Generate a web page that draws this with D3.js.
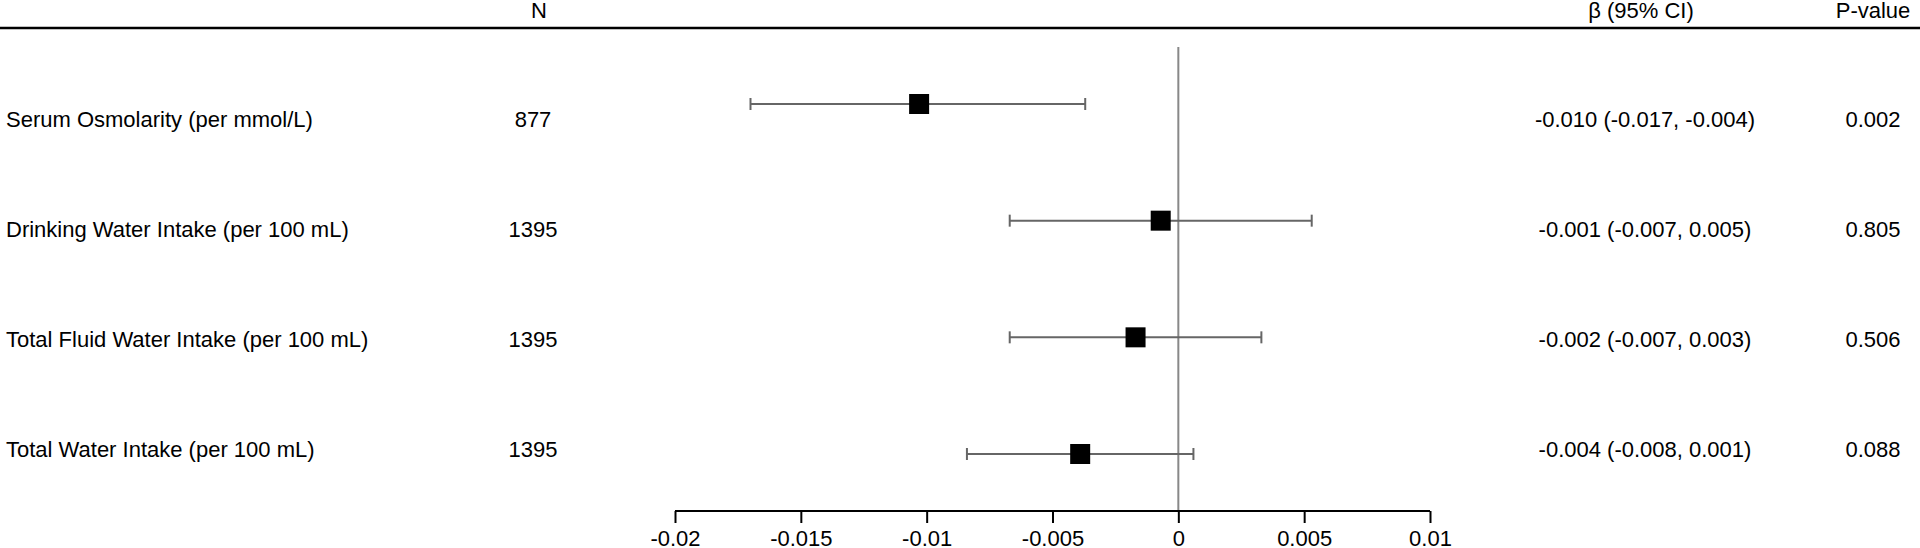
<!DOCTYPE html><html><head><meta charset="utf-8"><script src="https://cdn.jsdelivr.net/npm/d3@7"></script>
<style>body{margin:0;background:#fff}text{font-family:"Liberation Sans",Arial,sans-serif;fill:#000}</style></head><body>
<svg id="c" width="1920" height="548"></svg>
<script>
const labels=["Serum Osmolarity (per mmol/L)","Drinking Water Intake (per 100 mL)","Total Fluid Water Intake (per 100 mL)","Total Water Intake (per 100 mL)"];
const ns=["877","1395","1395","1395"];
const est=[-0.0103,-0.0007,-0.0017,-0.0039];
const lo=[-0.0170,-0.0067,-0.0067,-0.0084];
const hi=[-0.0037,0.0053,0.0033,0.0006];
const ciText=["-0.010 (-0.017, -0.004)","-0.001 (-0.007, 0.005)","-0.002 (-0.007, 0.003)","-0.004 (-0.008, 0.001)"];
const pText=["0.002","0.805","0.506","0.088"];
const ticks=[-0.02,-0.015,-0.01,-0.005,0,0.005,0.01];
const svg=d3.select("#c");
const x=d3.scaleLinear().domain([-0.02,0.01]).range([675,1430]);
const y=d3.scalePoint().domain(d3.range(4)).range([104,454]);
const yl=d3.scalePoint().domain(d3.range(4)).range([119,449]);
const fs=22;
svg.append("text").attr("x",539).attr("y",18).attr("text-anchor","middle").attr("font-size",fs).text("N");
svg.append("text").attr("x",1641).attr("y",18).attr("text-anchor","middle").attr("font-size",fs).text("β (95% CI)");
svg.append("text").attr("x",1873).attr("y",18).attr("text-anchor","middle").attr("font-size",fs).text("P-value");
svg.append("line").attr("x1",0).attr("x2",1920).attr("y1",28).attr("y2",28).attr("stroke","#000").attr("stroke-width",2.5);
svg.append("line").attr("x1",x(0)).attr("x2",x(0)).attr("y1",47).attr("y2",511).attr("stroke","#888").attr("stroke-width",2);
const ax=svg.append("g").attr("transform","translate(0,511)").call(d3.axisBottom(x).tickValues(ticks).tickSize(12).tickFormat(d=>d===0?"0":String(d)));
ax.select(".domain").attr("stroke","#000").attr("stroke-width",2).attr("d","M675,0H1430");
ax.selectAll(".tick line").attr("stroke","#000").attr("stroke-width",2).attr("y1",0).attr("y2",12);
ax.selectAll(".tick text").attr("font-size",fs).attr("font-family","Liberation Sans, Arial").attr("y",19).attr("dy","0.71em").attr("fill","#000");
const rows=svg.append("g").selectAll("g").data(d3.range(4)).join("g");
rows.append("text").attr("x",6).attr("y",i=>yl(i)).attr("dy","0.35em").attr("font-size",fs).text(i=>labels[i]);
rows.append("text").attr("x",533).attr("y",i=>yl(i)).attr("dy","0.35em").attr("text-anchor","middle").attr("font-size",fs).text(i=>ns[i]);
rows.append("text").attr("x",1645).attr("y",i=>yl(i)).attr("dy","0.35em").attr("text-anchor","middle").attr("font-size",fs).text(i=>ciText[i]);
rows.append("text").attr("x",1873).attr("y",i=>yl(i)).attr("dy","0.35em").attr("text-anchor","middle").attr("font-size",fs).text(i=>pText[i]);
rows.append("line").attr("x1",i=>x(lo[i])).attr("x2",i=>x(hi[i])).attr("y1",i=>y(i)).attr("y2",i=>y(i)).attr("stroke","#666").attr("stroke-width",2);
rows.append("line").attr("x1",i=>x(lo[i])).attr("x2",i=>x(lo[i])).attr("y1",i=>y(i)-6).attr("y2",i=>y(i)+6).attr("stroke","#666").attr("stroke-width",2);
rows.append("line").attr("x1",i=>x(hi[i])).attr("x2",i=>x(hi[i])).attr("y1",i=>y(i)-6).attr("y2",i=>y(i)+6).attr("stroke","#666").attr("stroke-width",2);
rows.append("rect").attr("x",i=>x(est[i])-10).attr("y",i=>y(i)-10).attr("width",20).attr("height",20).attr("fill","#000");
</script></body></html>
